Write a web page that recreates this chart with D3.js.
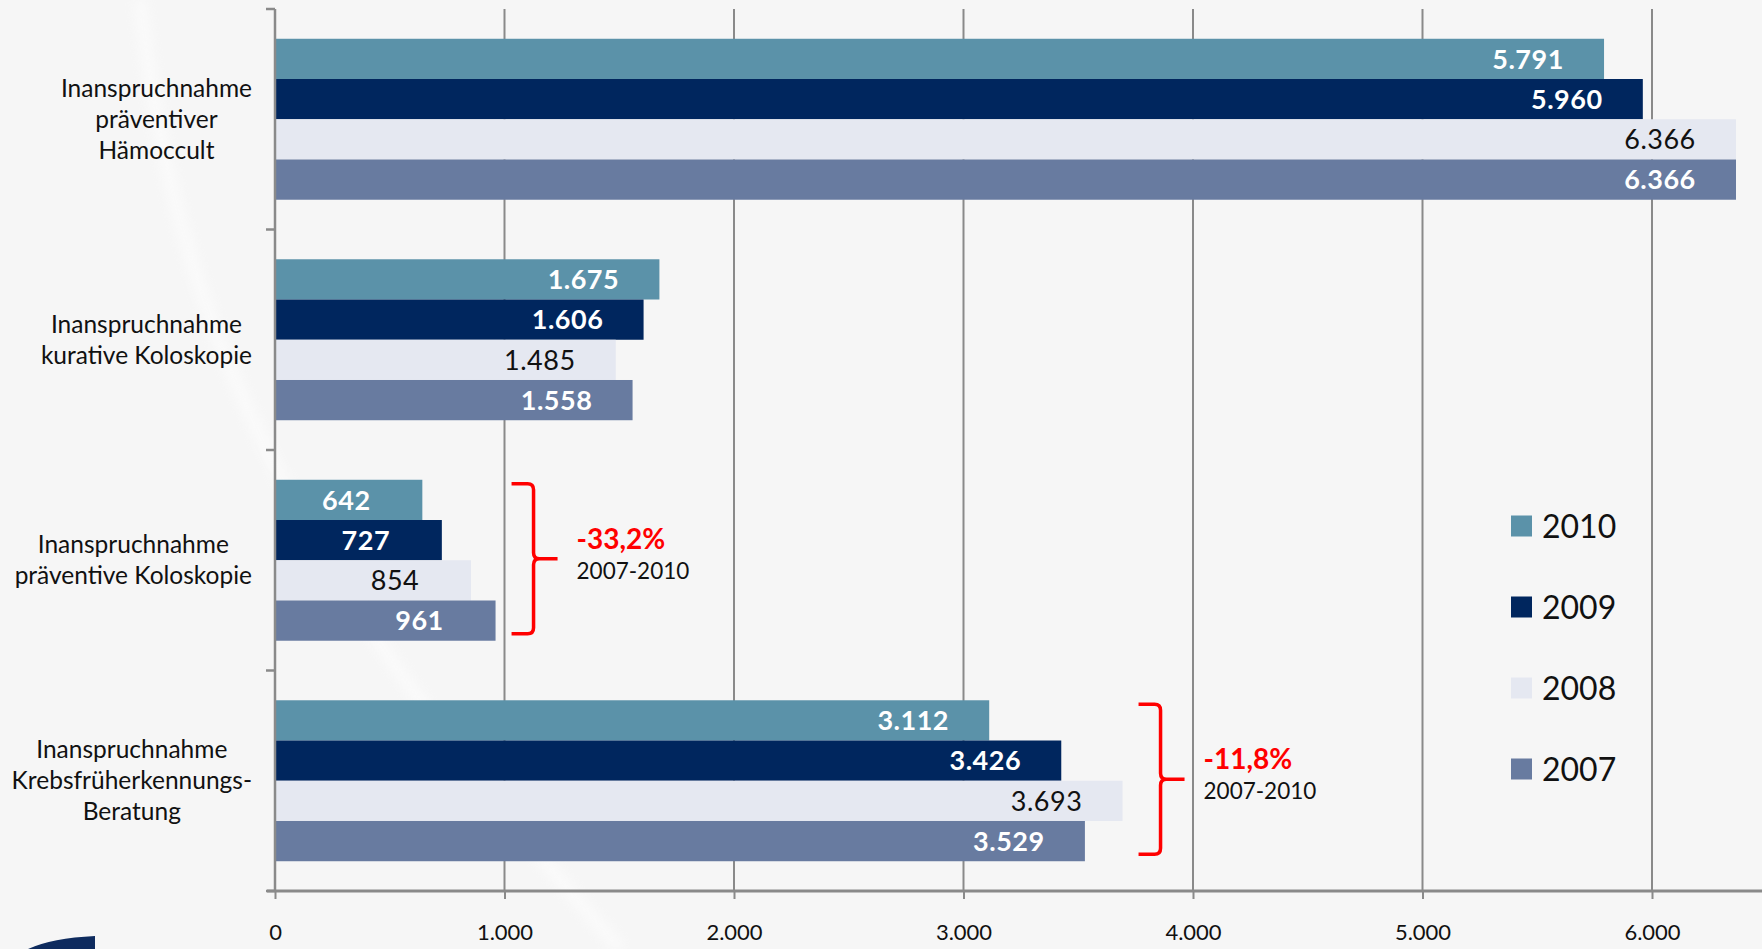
<!DOCTYPE html>
<html>
<head>
<meta charset="utf-8">
<script src="https://cdn.jsdelivr.net/npm/d3@7"></script>
<style>
  body { margin: 0; background: #f6f6f6; }
  svg { display: block; }
</style>
</head>
<body>
<div class="chart"></div>
<script>
let categoryLines = [
  ['Inanspruchnahme', 'präventiver', 'Hämoccult'],
  ['Inanspruchnahme', 'kurative Koloskopie'],
  ['Inanspruchnahme', 'präventive Koloskopie'],
  ['Inanspruchnahme', 'Krebsfrüherkennungs-', 'Beratung']
];
let years = ['2010', '2009', '2008', '2007'];
let values2010 = [5791, 1675, 642, 3112];
let values2009 = [5960, 1606, 727, 3426];
let values2008 = [6366, 1485, 854, 3693];
let values2007 = [6366, 1558, 961, 3529];
let xTicks = [0, 1000, 2000, 3000, 4000, 5000, 6000];
let bracketCategories = [2, 3];
let bracketPeriod = '2007-2010';

let colors = {'2010': '#5b92a9', '2009': '#00265e', '2008': '#e5e8f1', '2007': '#687ba0'};
let seriesValues = [values2010, values2009, values2008, values2007];

let width = 1762;
let height = 949;
let textFont = 'Lato, "Open Sans", sans-serif';

let de = d3.formatLocale({decimal: ',', thousands: '.', grouping: [3], currency: ['', ' €'], minus: '-', percent: '%'});
let fmt = de.format(',');
let fmtPct = de.format('.1%');

let svg = d3.select('.chart')
  .append('svg')
    .attr('width', width)
    .attr('height', height);

svg.append('rect')
  .attr('width', width)
  .attr('height', height)
  .style('fill', '#f6f6f6');

// faint background swoosh + logo corner
let defs = svg.append('defs');
defs.append('filter').attr('id', 'blur')
  .append('feGaussianBlur').attr('stdDeviation', 6);
svg.append('path')
  .attr('d', 'M140,0 C170,260 240,520 620,949')
  .style('fill', 'none')
  .style('stroke', '#ffffff')
  .style('stroke-width', 12)
  .style('opacity', 0.55)
  .attr('filter', 'url(#blur)');
svg.append('path')
  .attr('d', 'M28,949 Q52,938 95,936 L95,949 Z')
  .style('fill', '#0e2b5e');

let x = d3.scaleLinear()
  .domain([0, 6000])
  .range([275, 1652]);

let y0 = d3.scaleBand()
  .domain(d3.range(categoryLines.length))
  .range([9, 891])
  .paddingInner(0.27)
  .paddingOuter(0.135);

let y1 = d3.scaleBand()
  .domain(years)
  .range([0, y0.bandwidth()]);

// gridlines
svg.append('g')
  .selectAll('line')
  .data(xTicks.slice(1))
  .join('line')
    .attr('x1', d => x(d))
    .attr('x2', d => x(d))
    .attr('y1', 9)
    .attr('y2', 891)
    .style('stroke', '#8a8a8a')
    .style('stroke-width', 2);

// bars
let groups = svg.append('g')
  .selectAll('g')
  .data(categoryLines)
  .join('g')
    .attr('transform', (d, i) => `translate(0, ${y0(i)})`);

groups.selectAll('rect')
  .data((d, i) => years.map((yr, j) => ({year: yr, value: seriesValues[j][i]})))
  .join('rect')
    .attr('x', x(0))
    .attr('y', d => y1(d.year))
    .attr('width', d => x(d.value) - x(0))
    .attr('height', y1.bandwidth())
    .style('fill', d => colors[d.year]);

groups.selectAll('text')
  .data((d, i) => years.map((yr, j) => ({year: yr, value: seriesValues[j][i]})))
  .join('text')
    .attr('x', d => x(d.value) - 76)
    .attr('y', d => y1(d.year) + y1.bandwidth() / 2)
    .attr('dy', '0.36em')
    .attr('text-anchor', 'middle')
    .style('font-family', textFont)
    .style('font-size', '27px')
    .style('letter-spacing', '0.5px')
    .style('font-weight', d => d.year === '2008' ? 400 : 700)
    .style('fill', d => d.year === '2008' ? '#111' : '#fff')
    .text(d => fmt(d.value));

// x axis
let xAxis = d3.axisBottom(x)
  .tickValues(xTicks)
  .tickFormat(fmt)
  .tickSizeInner(8)
  .tickSizeOuter(0)
  .tickPadding(25);
let gx = svg.append('g')
  .attr('transform', 'translate(0, 891)')
  .call(xAxis);
gx.select('.domain').remove();
gx.selectAll('line').style('stroke', '#8a8a8a').style('stroke-width', 2);
gx.selectAll('text')
  .style('font-family', textFont)
  .style('font-size', '22px')
  .style('fill', '#111');
svg.append('line')
  .attr('x1', x(0) - 8).attr('x2', width)
  .attr('y1', 891).attr('y2', 891)
  .style('stroke', '#8a8a8a').style('stroke-width', 3);

// y axis with ticks at category boundaries
let step = y0.step();
let bounds = d3.range(categoryLines.length + 1).map(i => 9 + i * step);
svg.append('line')
  .attr('x1', x(0)).attr('x2', x(0))
  .attr('y1', 9).attr('y2', 891)
  .style('stroke', '#8a8a8a').style('stroke-width', 2.5);
svg.append('g')
  .selectAll('line')
  .data(bounds)
  .join('line')
    .attr('x1', x(0) - 9).attr('x2', x(0))
    .attr('y1', d => d).attr('y2', d => d)
    .style('stroke', '#8a8a8a').style('stroke-width', 2.5);

// category labels: lines centred within a block that ends near the axis
let lineH = 31;
categoryLines.forEach((lines, i) => {
  let cy = y0(i) + y0.bandwidth() / 2;
  let t = svg.append('text')
    .attr('text-anchor', 'middle')
    .style('font-family', textFont)
    .style('font-size', '24.5px')
    .style('fill', '#111');
  let spans = t.selectAll('tspan')
    .data(lines)
    .join('tspan')
      .attr('y', (d, k) => cy + (k - (lines.length - 1) / 2) * lineH)
      .attr('dy', '0.35em')
      .text(d => d);
  let maxW = d3.max(spans.nodes(), n => n.getComputedTextLength());
  spans.attr('x', 252 - maxW / 2);
});

// brackets
bracketCategories.forEach(i => {
  let maxV = d3.max(seriesValues, s => s[i]);
  let bx = x(maxV) + 16;
  let top = y0(i) + 4;
  let bot = y0(i) + y0.bandwidth() - 7;
  let mid = (top + bot) / 2;
  let p = d3.path();
  p.moveTo(bx, top);
  p.lineTo(bx + 16, top);
  p.quadraticCurveTo(bx + 22, top, bx + 22, top + 6);
  p.lineTo(bx + 22, mid - 6);
  p.quadraticCurveTo(bx + 22, mid, bx + 28, mid);
  p.lineTo(bx + 46, mid);
  p.moveTo(bx + 28, mid);
  p.quadraticCurveTo(bx + 22, mid, bx + 22, mid + 6);
  p.lineTo(bx + 22, bot - 6);
  p.quadraticCurveTo(bx + 22, bot, bx + 16, bot);
  p.lineTo(bx, bot);
  svg.append('path')
    .attr('d', p.toString())
    .style('fill', 'none')
    .style('stroke', '#ff0000')
    .style('stroke-width', 3.5);
  let change = values2010[i] / values2007[i] - 1;
  svg.append('text')
    .attr('x', bx + 65).attr('y', mid - 10)
    .style('font-family', textFont)
    .style('font-size', '28px')
    .style('font-weight', 700)
    .style('fill', '#ff0000')
    .text(fmtPct(change));
  svg.append('text')
    .attr('x', bx + 65).attr('y', mid + 20)
    .style('font-family', textFont)
    .style('font-size', '22.5px')
    .style('fill', '#111')
    .text(bracketPeriod);
});

// legend
let legend = svg.append('g')
  .selectAll('g')
  .data(years)
  .join('g')
    .attr('transform', (d, i) => `translate(1511, ${526 + i * 81})`);
legend.append('rect')
  .attr('y', -10.5)
  .attr('width', 21)
  .attr('height', 21)
  .style('fill', d => colors[d]);
legend.append('text')
  .attr('x', 31)
  .attr('dy', '0.36em')
  .style('font-family', textFont)
  .style('font-size', '32px')
  .style('fill', '#111')
  .text(d => d);
</script>
</body>
</html>
